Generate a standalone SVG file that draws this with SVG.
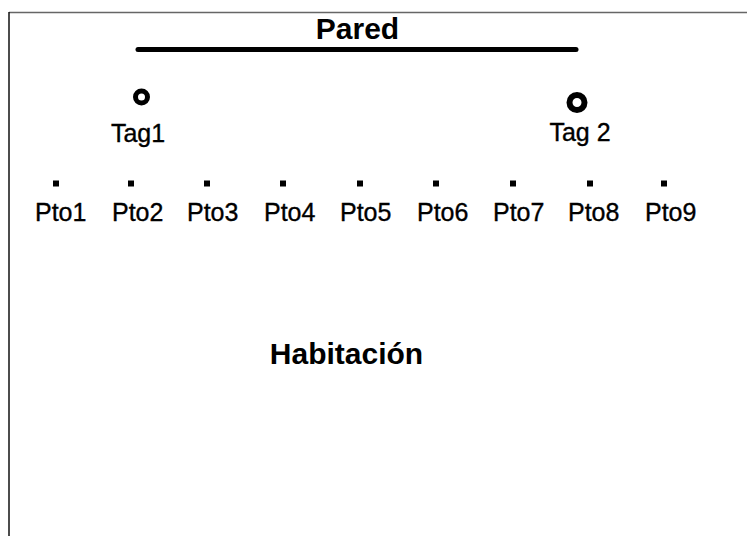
<svg xmlns="http://www.w3.org/2000/svg" width="747" height="536" viewBox="0 0 747 536">
  <style>
    text { font-family: "Liberation Sans", Arial, sans-serif; fill: #000; }
    .title { font-size: 30px; font-weight: bold; }
    .lbl { font-size: 25px; stroke: #000; stroke-width: 0.35; }
    .tag { fill: none; stroke: #000; }
    .pt { fill: #000; }
  </style>
  <rect width="747" height="536" fill="#fff"/>
  <!-- frame: top and left edges -->
  <line x1="9" y1="12.5" x2="747" y2="12.5" stroke="#666" stroke-width="1.5"/>
  <line x1="9" y1="12" x2="9" y2="536" stroke="#111" stroke-width="1.5"/>

  <!-- wall -->
  <g id="pared">
    <text class="title" x="357.5" y="39" text-anchor="middle">Pared</text>
    <line x1="138" y1="49.5" x2="576" y2="49.5" stroke="#000" stroke-width="5" stroke-linecap="round"/>
  </g>

  <!-- tags -->
  <g id="tag1">
    <circle class="tag" cx="141.5" cy="97" r="6" stroke-width="5"/>
    <text class="lbl" x="138" y="142" text-anchor="middle">Tag1</text>
  </g>
  <g id="tag2">
    <ellipse class="tag" cx="577" cy="102.5" rx="7.5" ry="7.5" stroke-width="6"/>
    <text class="lbl" x="580" y="141" text-anchor="middle">Tag 2</text>
  </g>

  <!-- measurement points -->
  <g id="pto1"><rect class="pt" x="53" y="180.5" width="6" height="6"/><text class="lbl" x="35" y="221">Pto1</text></g>
  <g id="pto2"><rect class="pt" x="128" y="180.5" width="6" height="6"/><text class="lbl" x="112" y="221">Pto2</text></g>
  <g id="pto3"><rect class="pt" x="204" y="180.5" width="6" height="6"/><text class="lbl" x="187" y="221">Pto3</text></g>
  <g id="pto4"><rect class="pt" x="280" y="180.5" width="6" height="6"/><text class="lbl" x="264" y="221">Pto4</text></g>
  <g id="pto5"><rect class="pt" x="357" y="180.5" width="6" height="6"/><text class="lbl" x="340" y="221">Pto5</text></g>
  <g id="pto6"><rect class="pt" x="433" y="180.5" width="6" height="6"/><text class="lbl" x="417" y="221">Pto6</text></g>
  <g id="pto7"><rect class="pt" x="510" y="180.5" width="6" height="6"/><text class="lbl" x="493" y="221">Pto7</text></g>
  <g id="pto8"><rect class="pt" x="587" y="180.5" width="6" height="6"/><text class="lbl" x="568" y="221">Pto8</text></g>
  <g id="pto9"><rect class="pt" x="661" y="180.5" width="6" height="6"/><text class="lbl" x="645" y="221">Pto9</text></g>

  <!-- room -->
  <g id="habitacion">
    <text class="title" x="346.5" y="364" text-anchor="middle">Habitación</text>
  </g>

  <g id="connectors"/>
</svg>
